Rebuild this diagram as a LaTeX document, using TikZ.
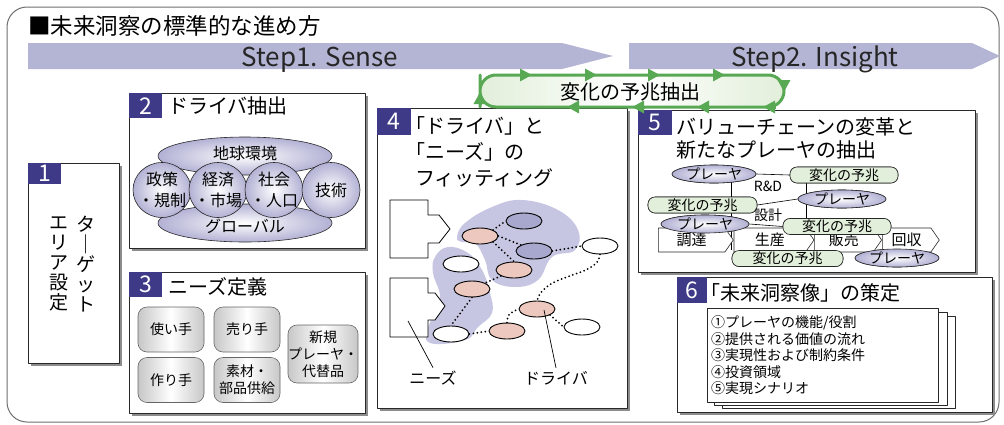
\documentclass[tikz,border=0pt]{standalone}
\usepackage{fontspec}
\setmainfont{Noto Sans CJK JP}
\usetikzlibrary{positioning,shapes.geometric,shapes.symbols,shadows,arrows.meta}
\newcommand\jfs[2]{\fontsize{#1}{#2}\selectfont}
\definecolor{bandcol}{RGB}{180,180,212}
\definecolor{badgecol}{RGB}{62,58,135}
\definecolor{cycgreen}{RGB}{88,168,84}
\definecolor{leafgreen}{RGB}{226,239,218}
\definecolor{lavcol}{RGB}{178,177,212}
\definecolor{blobcol}{RGB}{199,198,226}
\definecolor{darkell}{RGB}{168,167,206}
\definecolor{pinkell}{RGB}{236,200,190}
\definecolor{framecol}{RGB}{110,110,110}
\definecolor{edgecol}{RGB}{40,40,40}
\begin{document}
\begin{tikzpicture}[x=1pt, y=-1pt, line join=round,
    panel/.style={draw=edgecol, fill=white, line width=0.8pt, anchor=north west, inner sep=0pt,
      drop shadow={shadow xshift=3pt, shadow yshift=-3pt, fill=black!45, opacity=1}},
    badge/.style={fill=badgecol, text=white, anchor=north west, inner sep=0pt, minimum height=25pt, font=\jfs{23}{23}},
    ptitle/.style={anchor=west, inner sep=0pt, font=\jfs{20}{20}},
    vtext/.style={align=center, inner sep=0pt, font=\jfs{19}{20}},
    orb/.style={ellipse, draw=edgecol, line width=0.6pt, inner color=white, outer color=lavcol, inner sep=0pt},
    orbtext/.style={align=center, inner sep=0pt, font=\jfs{16}{21}},
    needbox/.style={rectangle, rounded corners=9pt, draw=black!60, line width=0.6pt, left color=black!22, right color=black!22,
      middle color=white, minimum width=66pt, minimum height=45pt, inner sep=0pt, font=\jfs{14}{17}, align=center},
    spot/.style={ellipse, draw=black, line width=0.9pt, minimum width=36pt, minimum height=16pt, inner sep=0pt},
    dotline/.style={line width=2pt, dash pattern=on 0pt off 4pt, line cap=round},
    player/.style={ellipse, draw=edgecol, line width=0.6pt, inner color=white, outer color=lavcol, minimum width=84pt,
      minimum height=18pt, inner sep=0pt, font=\jfs{14}{14}},
    omen/.style={rectangle, rounded corners=7pt, draw=edgecol, line width=0.6pt, fill=leafgreen, minimum width=108pt,
      minimum height=16pt, inner sep=0pt, font=\jfs{14}{14}},
    chev/.style={signal, signal to=east, signal pointer angle=110, draw=edgecol, line width=0.6pt, fill=white,
      minimum height=24pt, inner sep=0pt, anchor=west, font=\jfs{15}{15}},
    page/.style={draw=edgecol, fill=white, line width=0.8pt, anchor=north west, inner sep=0pt},
    cycarrow/.style={cycgreen, line width=3pt, -{Triangle[length=12pt,width=12pt]}}]
\useasboundingbox (0,0) rectangle (1004,424);
\draw[framecol, line width=1pt, rounded corners=20pt] (7,7) rectangle (999,422);
\node[anchor=west, inner sep=0pt, font=\jfs{22.5}{22.5}] (head) at (28,26) {■未来洞察の標準的な進め方};

\fill[bandcol] (28,43) -- (562,43) -- (613,56) -- (562,69) -- (28,69) -- cycle;
\fill[bandcol] (629,43) -- (972,43) -- (1000,56) -- (972,69) -- (629,69) -- cycle;
\node[anchor=base, inner sep=0pt, text=black!85, font=\jfs{26}{26}] (sense) at (320,66) {Step1. Sense};
\node[anchor=base, inner sep=0pt, text=black!85, font=\jfs{26}{26}] (insight) at (815,66) {Step2. Insight};

\node[panel, minimum width=91pt, minimum height=200pt] (box1) at (28,163) {};
\node[badge, minimum width=33pt, minimum height=21pt] (bd1) at (box1.north west) {1};
\node[vtext] (tgA) at (86,264) {タ\\｜\\ゲ\\ッ\\ト};
\node[vtext] (tgB) at (59,264) {エ\\リ\\ア\\設\\定};

\node[panel, minimum width=236pt, minimum height=155pt] (box2) at (129,93) {};
\node[badge, minimum width=33pt] (bd2) at (box2.north west) {2};
\node[ptitle] (t2) at (168,106) {ドライバ抽出};
\node[orb, minimum width=174pt, minimum height=38pt] (globe) at (245,156) {};
\node[orb, minimum width=174pt, minimum height=38pt] (world) at (245,223) {};
\node[orb, minimum width=58pt, minimum height=55pt] (pol) at (162,190) {};
\node[orb, minimum width=58pt, minimum height=55pt] (eco) at (218,190) {};
\node[orb, minimum width=58pt, minimum height=55pt] (soc) at (274,190) {};
\node[orb, minimum width=58pt, minimum height=55pt] (tec) at (331,190) {};
\node[orbtext] (globetx) at (245,153) {地球環境};
\node[orbtext] (worldtx) at (245,226) {グローバル};
\node[orbtext] at (pol) {政策\\・規制};
\node[orbtext] at (eco) {経済\\・市場};
\node[orbtext] at (soc) {社会\\・人口};
\node[orbtext] at (tec) {技術};

\node[panel, minimum width=236pt, minimum height=141pt] (box3) at (129,272) {};
\node[badge, minimum width=33pt] (bd3) at (box3.north west) {3};
\node[ptitle] (t3) at (168,287) {ニーズ定義};
\node[needbox] (user) at (171,329.5) {使い手};
\node[needbox] (seller) at (247,329.5) {売り手};
\node[needbox] (maker) at (171,380) {作り手};
\node[needbox] (supply) at (247,380) {素材・\\部品供給};
\node[needbox, minimum width=68pt, minimum height=58pt] (newcomer) at (323,354) {新規\\プレーヤ・\\代替品};

\node[panel, minimum width=250pt, minimum height=300pt] (box4) at (377,108) {};
\node[badge, minimum width=34pt, minimum height=27pt] (bd4) at (box4.north west) {4};
\node[anchor=north west, align=left, inner sep=0pt, font=\jfs{20}{26}] (t4) at (415,116)
  {\kern-10pt「ドライバ」と\\\kern-10pt「ニーズ」の\\フィッティング};
\fill[blobcol] plot[smooth cycle, tension=0.7] coordinates {(457,237) (465,223) (492,207) (522,200) (558,210) (578,230)
  (575,250) (552,257) (538,280) (515,287) (492,280) (485,260) (475,243) (462,242)};
\fill[blobcol] plot[smooth cycle, tension=0.7] coordinates {(435,257) (448,247) (468,253) (482,270) (490,293) (492,313)
  (478,327) (465,340) (428,342) (432,317) (440,297) (433,273)};
\draw[fill=white, line width=0.8pt] (390,200) -- (428,200) -- (428,215) -- (439,215) -- (450,229) -- (439,243)
  -- (428,243) -- (428,258) -- (390,258) -- cycle;
\draw[fill=white, line width=0.8pt] (390,278) -- (428,278) -- (428,293) -- (435,293) -- (445,306) -- (435,320)
  -- (428,320) -- (428,337) -- (390,337) -- cycle;
\node[spot, fill=darkell] (dk1) at (524,221) {};
\node[spot, fill=pinkell] (pk1) at (480,236) {};
\node[spot, fill=darkell] (dk2) at (534,251) {};
\node[spot, fill=white] (wt1) at (600,246) {};
\node[spot, fill=white] (wt2) at (461,264) {};
\node[spot, fill=pinkell] (pk2) at (514,270) {};
\node[spot, fill=pinkell] (pk3) at (472,289) {};
\node[spot, fill=pinkell] (pk4) at (537,309) {};
\node[spot, fill=white] (wt3) at (582,327) {};
\node[spot, fill=white] (wt4) at (451,334) {};
\node[spot, fill=pinkell] (pk5) at (507,331) {};
\draw[dotline] (pk1.north east) -- (dk1.west);
\draw[dotline] (pk1.east) -- (dk2.north west);
\draw[dotline] (pk1.south east) -- (pk2.north);
\draw[dotline] (dk2.east) -- (wt1.west);
\draw[dotline] (wt1.south) .. controls (598,278) and (545,272) .. (pk4.north);
\draw[dotline] (pk2.south west) -- (pk3.north east);
\draw[dotline] (pk3.south) -- (wt4.north);
\draw[dotline] (wt4.east) -- (pk5.west);
\draw[dotline] (pk5.north) .. controls (508,314) .. (pk4.west);
\draw[dotline] (pk4.south east) -- (wt3.west);
\coordinate (nzpt) at (408,321);
\coordinate (dvpt) at (544,310);
\node[inner sep=0pt, font=\jfs{16}{16}] (lbn) at (433,378) {ニーズ};
\node[inner sep=0pt, font=\jfs{16}{16}] (lbd) at (556,378) {ドライバ};
\draw[line width=0.7pt] (nzpt) -- ([yshift=3pt]lbn.north);
\draw[line width=0.7pt] (dvpt) -- ([yshift=3pt]lbd.north);

\node[panel, minimum width=337pt, minimum height=162pt] (box5) at (638,110) {};
\node[badge, minimum width=34pt] (bd5) at (box5.north west) {5};
\node[anchor=north west, align=left, inner sep=0pt, font=\jfs{20}{23}] (t5) at (676,117.5) {バリューチェーンの変革と\\新たなプレーヤの抽出};
\node[omen] (g1) at (844,175) {変化の予兆};
\node[omen, minimum width=109pt] (g2) at (702.5,205) {変化の予兆};
\node[omen] (g3) at (837,226.5) {変化の予兆};
\node[omen, minimum width=111pt] (g4) at (787.5,258.5) {変化の予兆};
\node[player] (p1) at (714,174) {プレーヤ};
\node[player, minimum width=88pt] (p2) at (842,199) {プレーヤ};
\node[player, minimum width=88pt] (p3) at (705,224) {プレーヤ};
\node[player] (p4) at (897,258) {プレーヤ};
\draw[line width=0.6pt] (p1.east) -- (g1.west);
\draw[line width=0.6pt] (p1.center -| g4.north west) -- (g4.north west);
\draw[line width=0.6pt] ([xshift=17pt]g1.south west) coordinate (vtop) -- (vtop |- g3.north);
\draw[line width=0.6pt] (g2.east) -- (p2.west);
\draw[line width=0.6pt] (p3.east) -- (g3.west);
\node[chev, minimum width=75pt] (ch1) at (658,240) {調達};
\node[chev, minimum width=80pt, right=0pt of ch1] (ch2) {生産};
\node[chev, minimum width=67pt, right=0pt of ch2] (ch3) {販売};
\node[chev, minimum width=57pt, right=0pt of ch3] (ch4) {回収};
\node[omen] at (g1) {変化の予兆};
\node[omen, minimum width=109pt] at (g2) {変化の予兆};
\node[omen] at (g3) {変化の予兆};
\node[omen, minimum width=111pt] at (g4) {変化の予兆};
\node[player] at (p1) {プレーヤ};
\node[player, minimum width=88pt] at (p2) {プレーヤ};
\node[player, minimum width=88pt] at (p3) {プレーヤ};
\node[player] at (p4) {プレーヤ};
\node[inner sep=0pt, font=\jfs{14}{14}] (rnd) at (768,186) {R\&D};
\node[inner sep=0pt, font=\jfs{14}{14}] (dsn) at (768,215) {設計};

\node[panel, minimum width=315pt, minimum height=135pt] (box6) at (677,277) {};
\node[badge, minimum width=30pt, minimum height=26pt] (bd6) at (box6.north west) {6};
\node[ptitle] (t6) at (710,293) {\kern-10pt「未来洞察像」の策定};
\node[page, minimum width=233pt, minimum height=92pt] (pg3) at (722,316) {};
\node[page, minimum width=233pt, minimum height=93pt] (pg2) at (714,312) {};
\node[page, minimum width=231pt, minimum height=94pt] (pg1) at (707,308) {};
\node[anchor=north west, align=left, inner sep=0pt, font=\jfs{14}{16.5}] (plan) at (711,315.5)
  {①プレーヤの機能/役割\\②提供される価値の流れ\\③実現性および制約条件\\④投資領域\\⑤実現シナリオ};

\draw[cycgreen, line width=3pt, left color=leafgreen, right color=leafgreen, middle color=white, rounded corners=16pt]
  (480,91) -- (480,75) -- (784,75) -- (784,107) -- (480,107) -- cycle;
\foreach \ax in {532,597,660,725}
  \draw[cycarrow] (\ax-12.5,75) -- (\ax,75);
\foreach \ax in {567,632,697,763}
  \draw[cycarrow] (\ax+12.5,107) -- (\ax,107);
\draw[cycarrow] (784,79.5) -- (784,92);
\draw[cycarrow] (480,104.5) -- (480,92);
\node[inner sep=0pt, font=\jfs{20}{20}] (omentitle) at (630,92) {変化の予兆抽出};
\end{tikzpicture}
\end{document}
